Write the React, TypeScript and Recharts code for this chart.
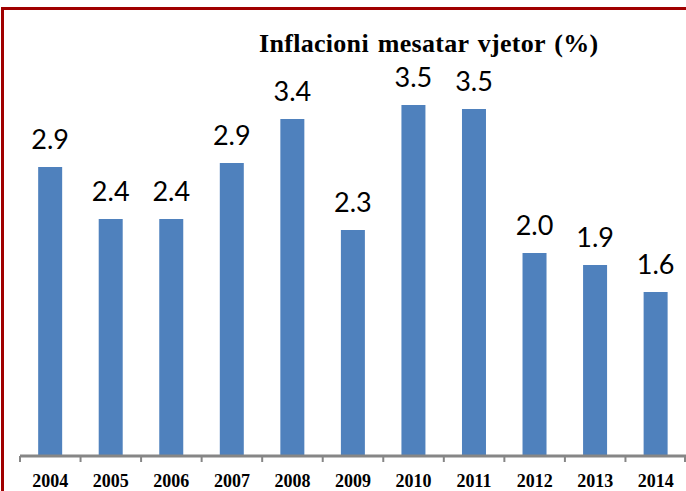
import React from "react";
import { BarChart, Bar, XAxis, YAxis, LabelList } from "recharts";

const years = ["2004", "2005", "2006", "2007", "2008", "2009", "2010", "2011", "2012", "2013", "2014"];
const inflation = [2.89, 2.37, 2.37, 2.93, 3.37, 2.26, 3.51, 3.47, 2.03, 1.91, 1.64];
const title = "Inflacioni mesatar vjetor (%)";

const data = years.map((y, i) => ({ year: y, value: inflation[i] }));

const AXIS = "#868686";
const BAR = "#4F81BD";

const Tick = (props: any) => {
  const { x, y, payload, index } = props;
  const half = payload && payload.offset ? payload.offset : 30.27;
  const last = index === years.length - 1;
  return (
    <g>
      <line x1={x - half} x2={x - half} y1={y} y2={y + 6} stroke={AXIS} strokeWidth={2} />
      {last && <line x1={x + half - 1} x2={x + half - 1} y1={y} y2={y + 6} stroke={AXIS} strokeWidth={2} />}
      <text
        x={x}
        y={y + 31}
        textAnchor="middle"
        fontFamily="'Liberation Serif', serif"
        fontWeight="bold"
        fontSize={18}
        fill="#000"
      >
        {payload.value}
      </text>
    </g>
  );
};

export default function App() {
  return (
    <div style={{ position: "absolute", left: 0, top: 0, width: 686, height: 491, background: "#fff", overflow: "hidden" }}>
      <div
        style={{
          position: "absolute",
          left: 1,
          top: 7,
          width: 700,
          height: 500,
          borderTop: "3px solid #A00000",
          borderLeft: "3px solid #A00000",
          boxSizing: "border-box",
        }}
      />
      <BarChart
        width={686}
        height={491}
        data={data}
        margin={{ top: 56, right: 0, bottom: 0, left: 20 }}
        barCategoryGap="30%"
      >
        <YAxis hide domain={[0, 4]} type="number" />
        <XAxis
          dataKey="year"
          height={35}
          interval={0}
          tickLine={false}
          tickSize={0}
          tickMargin={0}
          axisLine={{ stroke: AXIS, strokeWidth: 3 }}
          tick={<Tick />}
        />
        <Bar dataKey="value" fill={BAR} isAnimationActive={false}>
          <LabelList
            dataKey="value"
            position="top"
            offset={18}
            formatter={(v: any) => Number(v).toFixed(1)}
            style={{ fontFamily: "Lato, sans-serif", fontSize: 27, fill: "#000" }}
          />
        </Bar>
      </BarChart>
      <div
        style={{
          position: "absolute",
          left: 259,
          top: 29,
          whiteSpace: "nowrap",
          fontFamily: "'Liberation Serif', serif",
          fontWeight: "bold",
          fontSize: 26,
          letterSpacing: 0.3,
          wordSpacing: 2,
          lineHeight: "30px",
          color: "#000",
        }}
      >
        {title}
      </div>
    </div>
  );
}
